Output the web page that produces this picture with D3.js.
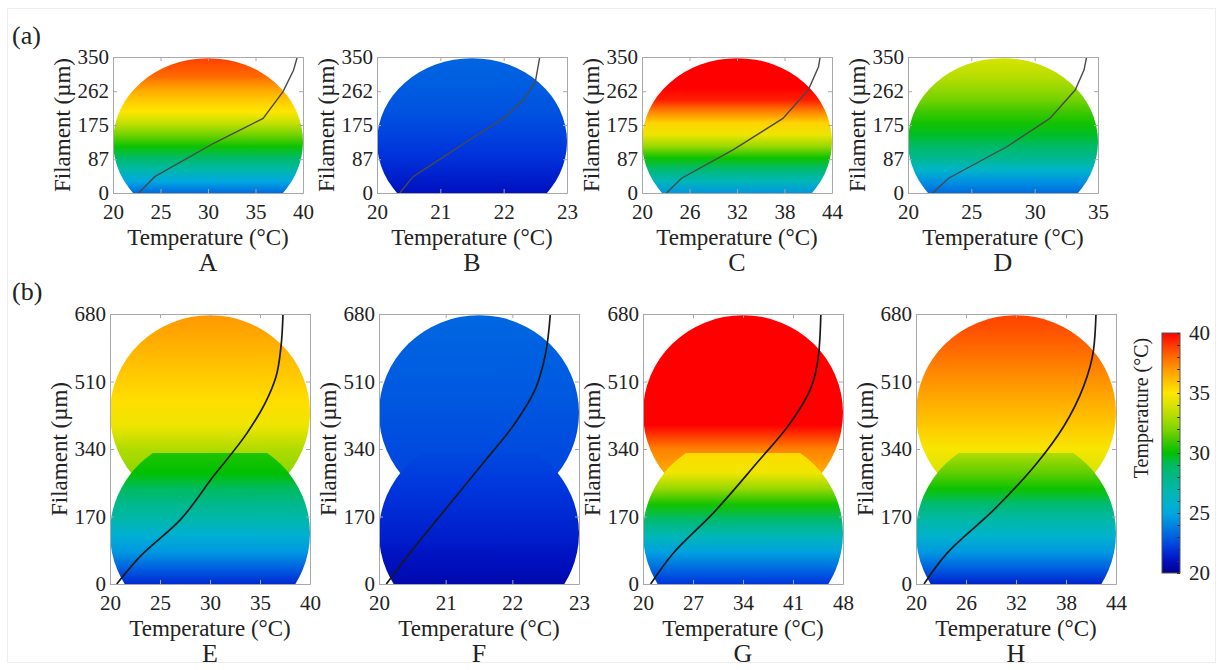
<!DOCTYPE html>
<html>
<head>
<meta charset="utf-8">
<title>Filament temperature profiles</title>
<script src="https://cdn.jsdelivr.net/npm/d3@7"></script>
<style>
  body { margin: 0; background: #fff; }
  .frame path, .frame line { stroke: #a8a8a8; }
</style>
</head>
<body>
<svg id="fig" width="1223" height="670"></svg>
<script>
// ---------- data ----------
const labels = ["A", "B", "C", "D", "E", "F", "G", "H"];
const tempMax = [40, 23, 44, 35, 40, 23, 48, 44];
const tempTicks = [
  [20, 25, 30, 35, 40], [20, 21, 22, 23], [20, 26, 32, 38, 44], [20, 25, 30, 35],
  [20, 25, 30, 35, 40], [20, 21, 22, 23], [20, 27, 34, 41, 48], [20, 26, 32, 38, 44]
];
const heightTicksTop = [0, 87, 175, 262, 350];
const heightTicksBottom = [0, 170, 340, 510, 680];

// temperature profile along the filament: [°C, µm]
const profileA = [[22.7, 0], [24.4, 42], [30.6, 128], [35.8, 192], [37.9, 261], [39.0, 316], [39.4, 350]];
const profileB = [[20.36, 0], [20.57, 42], [21.05, 93], [21.5, 141], [22.0, 192], [22.31, 239], [22.5, 286], [22.57, 350]];
const profileC = [[23.1, 0], [25.0, 38], [31.5, 111], [37.8, 192], [41.0, 265], [42.3, 325], [42.5, 350]];
const profileD = [[21.95, 0], [23.2, 38], [27.8, 119], [31.2, 192], [33.2, 265], [33.9, 317], [34.1, 350]];
const profileE = [[20.67, 0], [23.0, 69], [27.0, 161], [30.3, 270], [33.7, 380], [35.5, 455], [36.6, 522], [37.1, 598], [37.3, 680]];
const profileF = [[20.11, 0], [20.52, 90], [21.03, 195], [21.56, 304], [22.04, 405], [22.34, 489], [22.49, 573], [22.57, 680]];
const profileG = [[21.07, 0], [24.2, 77], [29.8, 178], [35.9, 304], [40.6, 405], [43.4, 489], [44.6, 581], [44.9, 680]];
const profileH = [[20.96, 0], [23.7, 77], [29.3, 186], [34.5, 304], [37.7, 396], [40.1, 497], [41.3, 589], [41.6, 680]];

// colour bar (°C -> colour)
const cbTemps = [20, 21, 22, 23, 24, 25, 26, 27, 28, 29, 30, 31, 32, 33, 34, 35, 36, 37, 38, 39, 40];
const cbColors = ["#00008c", "#0010c0", "#0035dd", "#0060e0", "#0085e0", "#00a8e0", "#00b4c8", "#00b8a8",
  "#00b888", "#00bb60", "#00c000", "#40c800", "#80d400", "#b0dc00", "#d8e400", "#ffe600", "#ffc000",
  "#ff9800", "#ff6a00", "#ff3800", "#ff0000"];
const cbTicks = [20, 25, 30, 35, 40];

// filament cross-section temperatures (°C) at given heights (µm)
const fillHeightsTop = [0, 30, 60, 90, 120, 150, 180, 210, 240, 270, 300, 350];
const fillA = [23.3, 25.0, 27.0, 28.8, 30.2, 31.8, 33.5, 35.0, 35.8, 36.8, 38.0, 38.9];
const fillB = [21.0, 21.3, 21.6, 21.9, 22.1, 22.3, 22.5, 22.7, 22.8, 22.9, 23.0, 23.1];
const fillC = [24.5, 26.5, 28.5, 30.2, 32.5, 34.5, 35.5, 37.5, 39.5, 40.5, 41.0, 42.0];
const fillD = [23.3, 24.4, 26.0, 27.8, 28.8, 29.6, 30.3, 31.0, 31.8, 32.5, 33.2, 34.0];

const lowerHeights = [0, 40, 80, 120, 160, 200, 240, 280, 330];
const upperHeights = [185, 280, 340, 400, 460, 520, 580, 640, 680];
const lowerE = [21.7, 23.0, 24.5, 25.5, 26.8, 27.8, 29.0, 30.0, 30.5];
const upperE = [31.5, 32.3, 33.0, 34.6, 35.2, 35.7, 36.2, 36.7, 37.0];
const lowerF = [20.6, 20.9, 21.1, 21.4, 21.6, 21.8, 22.0, 22.2, 22.45];
const upperF = [22.3, 22.4, 22.5, 22.65, 22.8, 22.9, 23.0, 23.1, 23.2];
const lowerG = [22.0, 23.3, 24.8, 26.5, 28.5, 30.3, 32.5, 34.6, 35.3];
const upperG = [36.0, 36.5, 37.5, 40.0, 41.0, 41.0, 41.0, 41.0, 41.0];
const lowerH = [21.5, 23.0, 24.5, 25.8, 27.0, 28.5, 30.2, 31.5, 33.0];
const upperH = [33.0, 34.0, 34.8, 35.8, 36.5, 37.2, 37.9, 38.5, 38.8];

// filament outline (µm)
const topDome = { center: 132, top: 347 };
const lowerDome = { center: 128, radius: 246, cut: 330 };
const upperDome = { center: 431, radius: 246 };

// ---------- layout ----------
const FONT = "'Liberation Serif', 'DejaVu Serif', 'Times New Roman', serif";
const svg = d3.select("#fig").attr("font-family", FONT);
const defs = svg.append("defs");
const color = d3.scaleLinear().domain(cbTemps).range(cbColors).clamp(true);

svg.append("rect").attr("x", 7.5).attr("y", 8.5).attr("width", 1208).attr("height", 654)
  .attr("fill", "none").attr("stroke", "#eeeeee");

const topRow = { lefts: [113, 377, 642, 908], w: 190, top: 57, h: 136 };
const botRow = { lefts: [110, 379, 643, 916], w: 200, top: 314, h: 270 };

const profiles = [profileA, profileB, profileC, profileD, profileE, profileF, profileG, profileH];
const topFills = [fillA, fillB, fillC, fillD];
const lowerFills = [lowerE, lowerF, lowerG, lowerH];
const upperFills = [upperE, upperF, upperG, upperH];

function label(sel, size) {
  return sel.attr("font-family", FONT).style("font-family", FONT)
    .attr("font-size", size).attr("fill", "#222");
}

function gradient(id, y, heights, temps) {
  const h0 = heights[0], h1 = heights[heights.length - 1];
  const g = defs.append("linearGradient").attr("id", id)
    .attr("gradientUnits", "userSpaceOnUse")
    .attr("x1", 0).attr("x2", 0).attr("y1", y(h0)).attr("y2", y(h1));
  heights.forEach((h, i) => {
    g.append("stop").attr("offset", (h - h0) / (h1 - h0)).attr("stop-color", color(temps[i]));
  });
  return "url(#" + id + ")";
}

function drawPanel(i, left, w, top, h, hMax, hTicks) {
  const x = d3.scaleLinear().domain([20, tempMax[i]]).range([left, left + w]);
  const y = d3.scaleLinear().domain([0, hMax]).range([top + h, top]);
  const g = svg.append("g");
  const clipId = "clip" + i;
  defs.append("clipPath").attr("id", clipId)
    .append("rect").attr("x", left).attr("y", top).attr("width", w).attr("height", h);
  const body = g.append("g").attr("clip-path", "url(#" + clipId + ")");
  const cx = (x.range()[0] + x.range()[1]) / 2;

  if (i < 4) {
    body.append("ellipse")
      .attr("cx", cx).attr("cy", y(topDome.center))
      .attr("rx", w / 2).attr("ry", y(topDome.center) - y(topDome.top))
      .attr("fill", gradient("fill" + i, y, fillHeightsTop, topFills[i]));
  } else {
    const k = i - 4;
    body.append("ellipse")
      .attr("cx", cx).attr("cy", y(upperDome.center))
      .attr("rx", w / 2).attr("ry", y(0) - y(upperDome.radius))
      .attr("fill", gradient("up" + i, y, upperHeights, upperFills[k]));
    const cutId = "cut" + i;
    defs.append("clipPath").attr("id", cutId)
      .append("rect").attr("x", left).attr("y", y(lowerDome.cut))
      .attr("width", w).attr("height", y(0) - y(lowerDome.cut));
    body.append("ellipse")
      .attr("clip-path", "url(#" + cutId + ")")
      .attr("cx", cx).attr("cy", y(lowerDome.center))
      .attr("rx", w / 2).attr("ry", y(0) - y(lowerDome.radius))
      .attr("fill", gradient("low" + i, y, lowerHeights, lowerFills[k]));
  }

  const line = d3.line().x(d => x(d[0])).y(d => y(d[1]))
    .curve(i < 4 ? d3.curveLinear : d3.curveMonotoneY);
  body.append("path").datum(profiles[i]).attr("d", line)
    .attr("fill", "none")
    .attr("stroke", i < 4 ? "#4a4a4a" : "#1a1a1a")
    .attr("stroke-width", i < 4 ? 1.4 : 1.7);

  // box with inward ticks
  const fs = 21;
  const fmt = d => String(d);
  const ax = g.append("g").attr("class", "frame");
  ax.append("g").attr("transform", "translate(0," + (top + h) + ")")
    .call(d3.axisBottom(x).tickValues(tempTicks[i]).tickFormat(fmt).tickSizeInner(-4).tickSizeOuter(0).tickPadding(11));
  ax.append("g").attr("transform", "translate(0," + top + ")")
    .call(d3.axisTop(x).tickValues(tempTicks[i]).tickSizeInner(-4).tickSizeOuter(0).tickFormat(""));
  ax.append("g").attr("transform", "translate(" + left + ",0)")
    .call(d3.axisLeft(y).tickValues(hTicks).tickFormat(fmt).tickSizeInner(-4).tickSizeOuter(0).tickPadding(4));
  ax.append("g").attr("transform", "translate(" + (left + w) + ",0)")
    .call(d3.axisRight(y).tickValues(hTicks).tickSizeInner(-4).tickSizeOuter(0).tickFormat(""));
  ax.selectAll("g").attr("font-family", null);
  label(ax.selectAll("text"), fs);

  label(g.append("text"), 23).attr("x", cx).attr("y", top + h + 52)
    .attr("text-anchor", "middle").text("Temperature (\u00b0C)");
  label(g.append("text"), 23)
    .attr("transform", "translate(" + (left - 43) + "," + (top + h / 2) + ") rotate(-90)")
    .attr("text-anchor", "middle").text("Filament (\u00b5m)");
  label(g.append("text"), 26).attr("x", cx).attr("y", top + h + 78)
    .attr("text-anchor", "middle").text(labels[i]);
}

topRow.lefts.forEach((l, i) => drawPanel(i, l, topRow.w, topRow.top, topRow.h, 350, heightTicksTop));
botRow.lefts.forEach((l, i) => drawPanel(i + 4, l, botRow.w, botRow.top, botRow.h, 680, heightTicksBottom));

label(svg.append("text"), 26).attr("x", 12).attr("y", 44).text("(a)");
label(svg.append("text"), 26).attr("x", 12).attr("y", 300).text("(b)");

// ---------- colour bar ----------
const cb = { x: 1162, w: 18, top: 333, bottom: 573 };
const cy = d3.scaleLinear().domain([20, 40]).range([cb.bottom, cb.top]);
const cbg = defs.append("linearGradient").attr("id", "cbar")
  .attr("gradientUnits", "userSpaceOnUse")
  .attr("x1", 0).attr("x2", 0).attr("y1", cy(20)).attr("y2", cy(40));
cbTemps.forEach((t, i) => cbg.append("stop").attr("offset", (t - 20) / 20).attr("stop-color", cbColors[i]));
svg.append("rect").attr("x", cb.x).attr("y", cb.top).attr("width", cb.w).attr("height", cb.bottom - cb.top)
  .attr("fill", "url(#cbar)").attr("stroke", "#555").attr("stroke-width", 1);
const cbAxis = svg.append("g").attr("transform", "translate(" + (cb.x + cb.w) + ",0)")
  .call(d3.axisRight(cy).ticks(20).tickSizeInner(-3).tickSizeOuter(0).tickFormat(""));
cbAxis.select(".domain").remove();
cbAxis.selectAll("line").attr("stroke", "#333");
const cbLab = svg.append("g").attr("transform", "translate(" + (cb.x + cb.w) + ",0)")
  .call(d3.axisRight(cy).tickValues(cbTicks).tickSize(0).tickPadding(9));
cbLab.select(".domain").remove();
cbLab.attr("font-family", null);
label(cbLab.selectAll("text"), 21);
label(svg.append("text"), 20)
  .attr("transform", "translate(1148,408) rotate(-90)")
  .attr("text-anchor", "middle").text("Temperature (\u00b0C)");
</script>
</body>
</html>
